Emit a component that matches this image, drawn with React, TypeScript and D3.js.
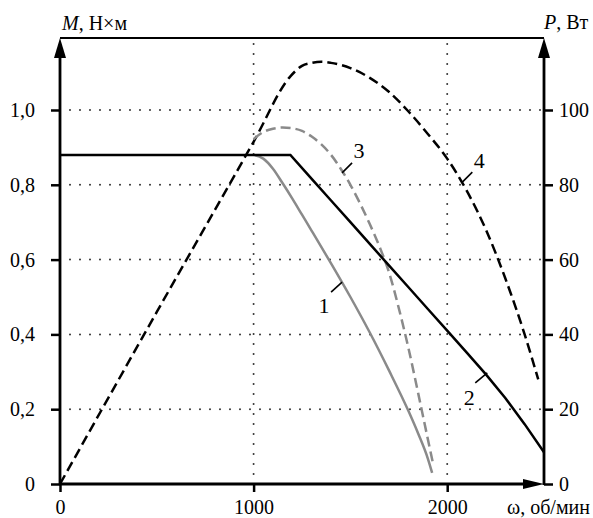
import React, { useRef, useEffect } from 'react';
import * as d3 from 'd3';

const W = 593;
const H = 518;

// 1 - torque, gray solid (left axis)
const omega1 = [1000, 1050, 1100, 1150, 1200, 1250, 1300, 1400, 1500, 1600, 1700, 1800, 1850, 1900, 1922];
const torque1 = [0.88, 0.87, 0.843, 0.804, 0.763, 0.72, 0.677, 0.59, 0.5, 0.405, 0.303, 0.195, 0.135, 0.068, 0.03];

// 2 - torque, black solid (left axis)
const omega2 = [0, 1190, 1300, 1400, 1500, 1600, 1700, 1800, 1900, 2000, 2100, 2200, 2300, 2400, 2500];
const torque2 = [0.88, 0.88, 0.816, 0.758, 0.7, 0.642, 0.584, 0.526, 0.468, 0.41, 0.352, 0.293, 0.23, 0.16, 0.085];

// 3 - power, gray dashed (right axis)
const omega3 = [1000, 1050, 1100, 1150, 1200, 1250, 1300, 1350, 1400, 1450, 1500, 1550, 1600, 1650, 1700, 1750, 1800, 1850, 1900, 1928];
const power3 = [92.2, 94.1, 95, 95.3, 95.1, 94.4, 92.9, 90.8, 88, 84.3, 80, 75, 69.5, 63.5, 56.5, 47, 36.3, 24.3, 12, 5.2];

// 4 - power, black dashed (right axis)
const omega4 = [0, 500, 1000, 1190, 1250, 1300, 1350, 1400, 1500, 1600, 1700, 1800, 1900, 2000, 2100, 2200, 2300, 2400, 2470];
const power4 = [0, 46, 91.5, 109, 111.8, 112.6, 112.9, 112.6, 111.2, 108.6, 104.8, 99.6, 93.6, 87, 78.5, 68, 55, 40, 28];

const xTicks = [0, 1000, 2000];
const mTicks = [0, 0.2, 0.4, 0.6, 0.8, 1.0];
const pTicks = [0, 20, 40, 60, 80, 100];

const FONT = '"Liberation Serif", "Times New Roman", serif';

const App = () => {
  const svgRef = useRef(null);

  useEffect(() => {
    const svg = d3.select(svgRef.current);
    svg.selectAll('*').remove();

    const left = 60, right = 544, top = 38, bottom = 484;

    const x = d3.scaleLinear().domain([0, 2500]).range([left, right]);
    const yM = d3.scaleLinear().domain([0, 1.1925]).range([bottom, top]);
    const yP = d3.scaleLinear().domain([0, 119.25]).range([bottom, top]);

    // dotted grid
    const grid = svg.append('g')
      .attr('stroke', '#333')
      .attr('stroke-width', 2)
      .attr('stroke-linecap', 'round')
      .attr('stroke-dasharray', '0,10');
    grid.selectAll('.h').data(mTicks.filter(d => d > 0)).enter().append('line')
      .attr('x1', left).attr('x2', right)
      .attr('y1', d => yM(d)).attr('y2', d => yM(d));
    grid.selectAll('.v').data(xTicks.filter(d => d > 0)).enter().append('line')
      .attr('x1', d => x(d)).attr('x2', d => x(d))
      .attr('y1', bottom).attr('y2', top);

    // top frame line
    svg.append('line')
      .attr('x1', left).attr('x2', right).attr('y1', top).attr('y2', top)
      .attr('stroke', '#000').attr('stroke-width', 2);

    const lineM = (xs, ys, curve) => d3.line()
      .x(d => x(d[0])).y(d => yM(d[1])).curve(curve)(d3.zip(xs, ys));
    const lineP = (xs, ys, curve) => d3.line()
      .x(d => x(d[0])).y(d => yP(d[1])).curve(curve)(d3.zip(xs, ys));

    const curves = svg.append('g').attr('fill', 'none');
    curves.append('path')
      .attr('d', lineP(omega4, power4, d3.curveMonotoneX))
      .attr('stroke', '#000').attr('stroke-width', 2.5)
      .attr('stroke-dasharray', '10,5');
    curves.append('path')
      .attr('d', lineP(omega3, power3, d3.curveMonotoneX))
      .attr('stroke', '#8a8a8a').attr('stroke-width', 2.5)
      .attr('stroke-dasharray', '10,5');
    curves.append('path')
      .attr('d', lineM(omega1, torque1, d3.curveMonotoneX))
      .attr('stroke', '#8a8a8a').attr('stroke-width', 2.5);
    curves.append('path')
      .attr('d', lineM(omega2, torque2, d3.curveLinear))
      .attr('stroke', '#000').attr('stroke-width', 2.5);

    // axes
    const fmtM = d => (d === 0 ? '0' : d3.format('.1f')(d).replace('.', ','));
    const styleAxis = g => {
      g.select('.domain').remove();
      g.selectAll('line').attr('stroke', '#000').attr('stroke-width', 2.5);
      g.selectAll('text')
        .attr('fill', '#000')
        .style('font-family', FONT)
        .style('font-size', '20px');
    };

    svg.append('g')
      .attr('transform', `translate(${left},0)`)
      .call(d3.axisLeft(yM).tickValues(mTicks).tickFormat(fmtM).tickSize(9).tickPadding(16))
      .call(styleAxis);
    svg.append('g')
      .attr('transform', `translate(${right},0)`)
      .call(d3.axisRight(yP).tickValues(pTicks).tickFormat(d3.format('d')).tickSize(9).tickPadding(6))
      .call(styleAxis);
    svg.append('g')
      .attr('transform', `translate(0,${bottom})`)
      .call(d3.axisBottom(x).tickValues(xTicks).tickFormat(d3.format('d')).tickSize(8).tickPadding(8))
      .call(styleAxis);

    // axis lines with arrows
    const ax = svg.append('g').attr('stroke', '#000').attr('stroke-width', 2.8);
    ax.append('line').attr('x1', left).attr('x2', left).attr('y1', bottom + 1).attr('y2', top + 16);
    ax.append('line').attr('x1', right).attr('x2', right).attr('y1', bottom + 1).attr('y2', top + 16);
    ax.append('line').attr('x1', left - 1).attr('x2', right - 18).attr('y1', bottom).attr('y2', bottom);
    const arrows = svg.append('g').attr('fill', '#000');
    arrows.append('path').attr('d', `M${left},${top} L${left - 6},${top + 20} L${left + 6},${top + 20} Z`);
    arrows.append('path').attr('d', `M${right},${top} L${right - 6},${top + 20} L${right + 6},${top + 20} Z`);
    arrows.append('path').attr('d', `M${right},${bottom} L${right - 21},${bottom - 5} L${right - 21},${bottom + 5} Z`);

    // axis titles
    const t1 = svg.append('text').attr('x', 62).attr('y', 30)
      .style('font-family', FONT).style('font-size', '20px');
    t1.append('tspan').attr('font-style', 'italic').text('M');
    t1.append('tspan').text(', Н×м');
    const t2 = svg.append('text').attr('x', 544).attr('y', 29)
      .style('font-family', FONT).style('font-size', '20px');
    t2.append('tspan').attr('font-style', 'italic').text('P');
    t2.append('tspan').text(', Вт');
    svg.append('text').attr('x', 590).attr('y', 514).attr('text-anchor', 'end')
      .style('font-family', FONT).style('font-size', '20px')
      .text('ω, об/мин');

    // curve labels with leaders
    const labels = [
      { name: '1', px: x(1457), py: yM(0.54), dx: -11, dy: 10, tx: -18, ty: 31 },
      { name: '2', px: x(2207), py: yM(0.297), dx: -12, dy: 10, tx: -18, ty: 32 },
      { name: '3', px: x(1457), py: yP(83.2), dx: 10, dy: -10, tx: 17, ty: -15 },
      { name: '4', px: x(2078), py: yP(80.7), dx: 10, dy: -10, tx: 17, ty: -14 },
    ];
    const lab = svg.append('g');
    lab.selectAll('line').data(labels).enter().append('line')
      .attr('x1', d => d.px).attr('y1', d => d.py)
      .attr('x2', d => d.px + d.dx).attr('y2', d => d.py + d.dy)
      .attr('stroke', '#000').attr('stroke-width', 1.6);
    lab.selectAll('text').data(labels).enter().append('text')
      .attr('x', d => d.px + d.tx).attr('y', d => d.py + d.ty)
      .attr('text-anchor', 'middle')
      .style('font-family', FONT).style('font-size', '22px')
      .text(d => d.name);
  }, []);

  return (
    <svg
      ref={svgRef}
      width={W}
      height={H}
      style={{ position: 'absolute', left: 0, top: 0, background: '#fff' }}
    />
  );
};

export default App;
